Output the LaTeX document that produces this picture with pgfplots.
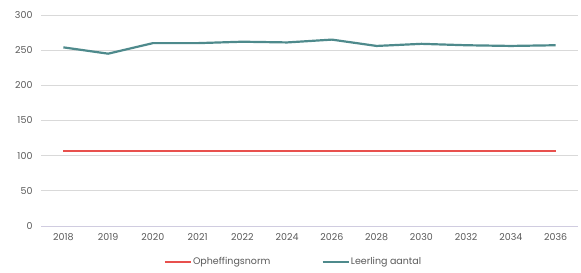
\documentclass[border=0pt]{standalone}
\usepackage{pgfplots}
\pgfplotsset{compat=1.18}
\usepackage{fontspec}
\setmainfont{Poppins}
\definecolor{redl}{HTML}{E8504D}
\definecolor{teall}{HTML}{4E8A8C}
\definecolor{gridc}{HTML}{D9D9D9}
\definecolor{axc}{HTML}{D0CCE0}
\definecolor{txt}{HTML}{595959}
\begin{document}
\begin{tikzpicture}
\useasboundingbox (0,0) rectangle (581pt,273pt);
\begin{axis}[
  at={(41pt,47pt)}, anchor=south west,
  scale only axis, width=537pt, height=211pt,
  xmin=-0.5, xmax=11.5, ymin=0, ymax=300,
  ytick={0,50,100,150,200,250,300},
  xtick={0,...,11},
  xticklabels={2018,2019,2020,2021,2022,2024,2026,2028,2030,2032,2034,2036},
  axis x line*=bottom, axis y line*=left,
  x axis line style={draw=axc, line width=0.8pt, -},
  y axis line style={draw=none},
  major tick length=0pt,
  ymajorgrids, grid style={draw=gridc, line width=0.9pt},
  tick label style={font=\fontsize{9.5}{11}\selectfont, text=txt},
  /pgf/number format/assume math mode=true,
  yticklabel style={xshift=-5pt},
  xticklabel style={yshift=-4pt},
  legend style={at={(0.469,-0.17)}, anchor=center, draw=none, fill=none,
    font=\fontsize{9.5}{11}\selectfont, text=txt, legend columns=2,
    nodes={inner sep=1pt},
    /tikz/every even column/.append style={column sep=50pt}},
  legend image code/.code={\draw[#1, line width=2.5pt] (0pt,0pt) -- (26pt,0pt);},
]
\addplot[redl, line width=2.2pt] coordinates {(0,107)(1,107)(2,107)(3,107)(4,107)(5,107)(6,107)(7,107)(8,107)(9,107)(10,107)(11,107)};
\addlegendentry{Opheffingsnorm}
\addplot[teall, line width=2.2pt] coordinates {(0,254)(1,245)(2,260)(3,260)(4,262)(5,261)(6,265)(7,256)(8,259)(9,257)(10,256)(11,257)};
\addlegendentry{Leerling aantal}
\end{axis}
\end{tikzpicture}
\end{document}
